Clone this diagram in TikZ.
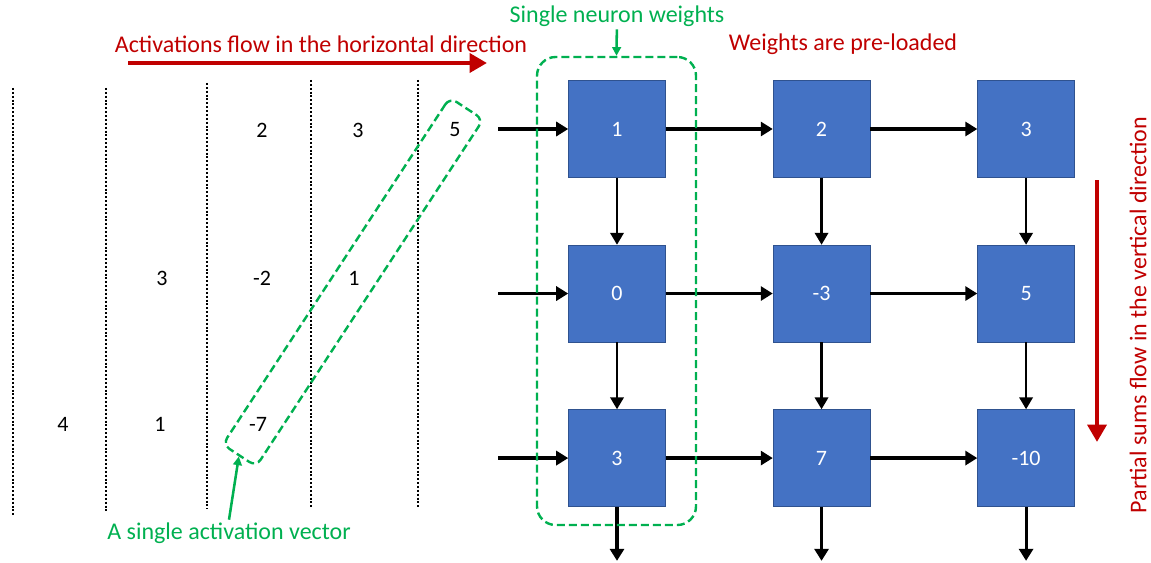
\documentclass[tikz,border=0pt]{standalone}
\usepackage{fontspec}
\setmainfont{Carlito}
\usetikzlibrary{arrows.meta,positioning}
\definecolor{cellblue}{RGB}{68,114,196}
\definecolor{celledge}{RGB}{47,82,143}
\definecolor{flowred}{RGB}{192,0,0}
\definecolor{markgreen}{RGB}{0,176,80}

\tikzset{
  cell/.style={draw=celledge, fill=cellblue, text=white, inner sep=0pt,
    minimum width=72.75pt, minimum height=72.75pt, font=\fontsize{16.5}{19}\selectfont},
  num/.style={inner sep=0pt, font=\fontsize{16.5}{19}\selectfont},
  sep/.style={line width=1.9pt, dash pattern=on 1.5pt off 1.4pt},
  harrow/.style={line width=2.6pt, -{Triangle[length=9pt,width=10.5pt]}},
  varrow/.style={line width=2pt, -{Triangle[length=9pt,width=10pt]}},
  groupbox/.style={draw=markgreen, line width=1.8pt, dash pattern=on 6pt off 3pt,
    rounded corners=14pt},
  greenlbl/.style={text=markgreen, inner sep=2pt, font=\fontsize{18}{21}\selectfont},
  greenarrow/.style={draw=markgreen, line width=1.9pt, -{Triangle[length=6.5pt,width=6.5pt]}},
  redlbl/.style={text=flowred, inner sep=2pt, font=\fontsize{18}{21}\selectfont},
  redarrow/.style={draw=flowred, line width=3.7pt, -{Triangle[length=13pt,width=14pt]}}
}

\begin{document}
\begin{tikzpicture}[x=0.75pt,y=-0.75pt]
\useasboundingbox (0,0) rectangle (1151,563);

% activations waiting to enter the array
\foreach \x/\ya/\yb in {13/88/515, 106/88/512, 207/83/509, 311/80/509, 418/80/508}
  \draw[sep] (\x,\ya) -- (\x,\yb);
\node[num] (a13) at (262,130) {2};
\node[num] (a14) at (358,130) {3};
\node[num] (a15) at (455,130) {5};
\node[num] (a22) at (162,278) {3};
\node[num] (a23) at (262,278) {-2};
\node[num] (a24) at (354,278) {1};
\node[num] (a31) at (63,424) {4};
\node[num] (a32) at (160,424) {1};
\node[num] (a33) at (258,424) {-7};

% processing elements with pre-loaded weights
\node[cell] (c11) at (617,129) {1};
\node[cell, right=80.25pt of c11] (c12) {2};
\node[cell, right=80.25pt of c12] (c13) {3};
\node[cell, below=50.25pt of c11] (c21) {0};
\node[cell, right=80.25pt of c21] (c22) {-3};
\node[cell, right=80.25pt of c22] (c23) {5};
\node[cell, below=50.25pt of c21] (c31) {3};
\node[cell, right=80.25pt of c31] (c32) {7};
\node[cell, right=80.25pt of c32] (c33) {-10};

\foreach \r in {1,2,3} {
  \coordinate[left=52.5pt of c\r1] (in\r);
  \draw[harrow] (in\r) -- (c\r1);
  \draw[harrow] (c\r1) -- (c\r2);
  \draw[harrow] (c\r2) -- (c\r3);
}
\foreach \c in {1,2,3} {
  \draw[varrow] (c1\c) -- (c2\c);
  \draw[varrow] (c2\c) -- (c3\c);
  \coordinate[below=40.5pt of c3\c] (out\c);
  \draw[harrow, line width=2.3pt] (c3\c) -- (out\c);
}

% highlighted groups
\node[groupbox, minimum width=119.25pt, minimum height=351pt] (neuron) at (616.5,291) {};
\node[groupbox, rounded corners=6pt, rotate=56.8, minimum width=311pt, minimum height=30pt] (vecbox) at (353,282) {};
\node[greenlbl] (neuronlbl) at (617,16) {Single neuron weights};
\draw[greenarrow] (neuronlbl) -- (neuron.north);
\node[greenlbl] (veclbl) at (229,533) {A single activation vector};
\draw[greenarrow] (veclbl.north) -- (vecbox.west);

% flow directions
\node[redlbl] (hlbl) at (321,44) {Activations flow in the horizontal direction};
\coordinate (hstart) at (128,63);
\coordinate (hend) at (487,63);
\draw[redarrow] (hstart) -- (hend);
\node[redlbl] (preload) at (843,44) {Weights are pre-loaded};
\node[redlbl, rotate=90] (vlbl) at (1138,315) {Partial sums flow in the vertical direction};
\coordinate (vstart) at (1097,180);
\coordinate (vend) at (1097,442);
\draw[redarrow, line width=3.3pt] (vstart) -- (vend);
\end{tikzpicture}
\end{document}
